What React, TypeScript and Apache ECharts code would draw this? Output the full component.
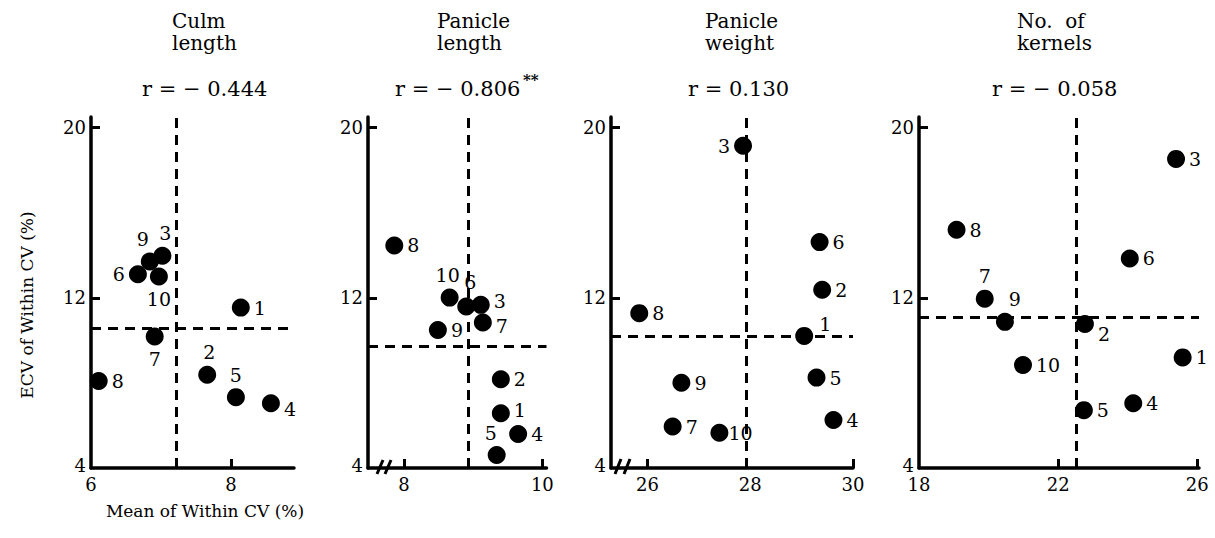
import { useEffect, useRef } from "react";
import * as echarts from "echarts";

// ---- data ----
const pointIds = ["1", "2", "3", "4", "5", "6", "7", "8", "9", "10"];

const culmX = [8.14, 7.66, 7.02, 8.57, 8.07, 6.67, 6.91, 6.11, 6.84, 6.97];
const culmY = [11.54, 8.38, 13.98, 7.04, 7.33, 13.11, 10.18, 8.09, 13.71, 13.0];
const culmMean = [7.22, 10.57];

const panLenX = [9.4, 9.4, 9.11, 9.65, 9.34, 8.9, 9.14, 7.86, 8.49, 8.66];
const panLenY = [6.57, 8.17, 11.67, 5.6, 4.61, 11.59, 10.84, 14.46, 10.49, 12.01];
const panLenMean = [8.93, 9.74];

const panWtX = [29.05, 29.4, 27.86, 29.62, 29.29, 29.35, 26.49, 25.84, 26.66, 27.4];
const panWtY = [10.21, 12.38, 19.15, 6.26, 8.25, 14.62, 5.95, 11.28, 8.01, 5.66];
const panWtMean = [27.93, 10.18];

const kernX = [25.58, 22.77, 25.39, 24.16, 22.74, 24.06, 19.89, 19.08, 20.47, 20.99];
const kernY = [9.2, 10.77, 18.53, 7.04, 6.72, 13.85, 11.96, 15.2, 10.87, 8.84];
const kernMean = [22.51, 11.09];

const titles = ["Culm\nlength", "Panicle\nlength", "Panicle\nweight", "No.  of\nkernels"];
const rTexts = ["r = − 0.444", "r = − 0.806", "r = 0.130", "r = − 0.058"];
const rStars = ["", "**", "", ""];

const yTickLabels = [4, 12, 20];
const xTickLabels = [[6, 8], [8, 10], [26, 28, 30], [18, 22, 26]];
const xTickMarks = [[8], [8, 10], [26, 30], [22, 26]];

const yAxisName = "ECV of Within CV (%)";
const xAxisName = "Mean of Within CV (%)";

// ---- layout / style ----
const FONT = "DejaVu Serif";
const grids = [
  { left: 91, width: 203, min: 6, max: 8.9 },
  { left: 368, width: 178.5, min: 7.48, max: 10.06 },
  { left: 611, width: 242, min: 25.29, max: 30.0 },
  { left: 919, width: 280, min: 18, max: 26.05 },
];
const GRID_TOP = 117;
const GRID_H = 351;
const titleLeft = [172, 437, 705, 1017];
const rLeft = [142, 395, 688, 992];

// label placement per panel: [position, dx, dy]
type LP = [string, number, number];
const labelPlace: LP[][] = [
  [["right", 0, 0], ["top", 2, 0], ["top", 3, 0], ["right", 0, 6], ["top", 0, 0], ["left", 0, 0], ["bottom", 0, 0], ["right", 0, 0], ["top", -7, 0], ["bottom", 0, 0]],
  [["right", 0, -3], ["right", 0, 0], ["right", 0, -4], ["right", 0, 0], ["top", -6, 0], ["top", 4, -2], ["right", 0, 4], ["right", 0, 0], ["right", 0, 0], ["top", -2, 0]],
  [["right", 2, -12], ["right", 0, 0], ["left", 0, 0], ["right", 0, 0], ["right", 0, 0], ["right", 0, 0], ["right", 0, 0], ["right", 0, 0], ["right", 0, 0], ["right", -4, 0]],
  [["right", 0, 0], ["right", 0, 10], ["right", 0, 0], ["right", 0, 0], ["right", 0, 0], ["right", 0, 0], ["top", 0, 0], ["right", 0, 0], ["top", 10, 0], ["right", 0, 0]],
];

const panelsX = [culmX, panLenX, panWtX, kernX];
const panelsY = [culmY, panLenY, panWtY, kernY];
const panelsMean = [culmMean, panLenMean, panWtMean, kernMean];

export default function App() {
  const ref = useRef<HTMLDivElement>(null);

  useEffect(() => {
    if (!ref.current) return;
    const chart = echarts.init(ref.current, null, { renderer: "svg" });

    const axisLine = { show: true, lineStyle: { color: "#000", width: 3.5 } };

    const option: any = {
      animation: false,
      backgroundColor: "#fff",
      grid: grids.map((g) => ({ left: g.left, top: GRID_TOP, width: g.width, height: GRID_H })),
      xAxis: grids.map((g, i) => ({
        type: "value",
        gridIndex: i,
        min: g.min,
        max: g.max,
        axisLine,
        splitLine: { show: false },
        axisTick: {
          show: true,
          inside: true,
          length: 9,
          customValues: xTickMarks[i],
          lineStyle: { color: "#000", width: 3 },
        },
        axisLabel: {
          customValues: xTickLabels[i],
          color: "#000",
          fontFamily: FONT,
          fontSize: 18,
          margin: 7,
        },
      })),
      yAxis: grids.map((_, i) => ({
        type: "value",
        gridIndex: i,
        min: 4,
        max: 20.5,
        axisLine,
        splitLine: { show: false },
        axisTick: {
          show: true,
          inside: true,
          length: 9,
          customValues: [12, 20],
          lineStyle: { color: "#000", width: 3 },
        },
        axisLabel: {
          customValues: yTickLabels,
          color: "#000",
          fontFamily: FONT,
          fontSize: 18,
          margin: 5,
          formatter: (v: number) => (v === 4 ? "{low|4}" : String(v)),
          rich: { low: { fontFamily: FONT, fontSize: 18, color: "#000", padding: [0, 0, 6, 0] } },
        },
      })),
      series: panelsX.map((xs, i) => ({
        type: "scatter",
        xAxisIndex: i,
        yAxisIndex: i,
        symbol: "circle",
        symbolSize: 18,
        itemStyle: { color: "#000", opacity: 1 },
        data: xs.map((x, k) => ({
          name: pointIds[k],
          value: [x, panelsY[i][k]],
          label: {
            show: true,
            formatter: pointIds[k],
            position: labelPlace[i][k][0],
            offset: [labelPlace[i][k][1], labelPlace[i][k][2]],
            distance: 4,
            color: "#000",
            opacity: 1,
            fontFamily: FONT,
            fontSize: 19,
          },
        })),
        markLine: {
          silent: true,
          symbol: ["none", "none"],
          label: { show: false },
          lineStyle: { color: "#000", width: 3, type: [10, 7], opacity: 1 },
          data: [{ xAxis: panelsMean[i][0] }, { yAxis: panelsMean[i][1] }],
        },
      })),
      graphic: [
        ...titles.map((t, i) => ({
          type: "text",
          x: titleLeft[i],
          y: 10,
          style: { text: t, fill: "#000", font: `20px "${FONT}"`, lineHeight: 22, align: "left", verticalAlign: "top" },
        })),
        ...rTexts.map((t, i) => ({
          type: "text",
          x: rLeft[i],
          y: 89,
          style: { text: t, fill: "#000", font: `21px "${FONT}"`, align: "left", verticalAlign: "middle" },
        })),
        {
          type: "text",
          x: 523,
          y: 80,
          style: { text: rStars[1], fill: "#000", font: `bold 15px "${FONT}"`, align: "left", verticalAlign: "middle" },
        },
        {
          type: "text",
          x: 27,
          y: 305,
          rotation: Math.PI / 2,
          style: { text: yAxisName, fill: "#000", font: `17px "${FONT}"`, align: "center", verticalAlign: "middle" },
        },
        {
          type: "text",
          x: 205,
          y: 511,
          style: { text: xAxisName, fill: "#000", font: `17px "${FONT}"`, align: "center", verticalAlign: "middle" },
        },
        // axis break marks
        { type: "line", shape: { x1: 377, y1: 474, x2: 383, y2: 460 }, style: { stroke: "#000", lineWidth: 3 } },
        { type: "line", shape: { x1: 385, y1: 474, x2: 391, y2: 460 }, style: { stroke: "#000", lineWidth: 3 } },
        { type: "line", shape: { x1: 615, y1: 474, x2: 621, y2: 459 }, style: { stroke: "#000", lineWidth: 3 } },
        { type: "line", shape: { x1: 624, y1: 474, x2: 630, y2: 459 }, style: { stroke: "#000", lineWidth: 3 } },
      ],
    };

    chart.setOption(option);
    return () => chart.dispose();
  }, []);

  return (
    <div
      ref={ref}
      style={{ position: "absolute", left: 0, top: 0, width: 1215, height: 538 }}
    />
  );
}
